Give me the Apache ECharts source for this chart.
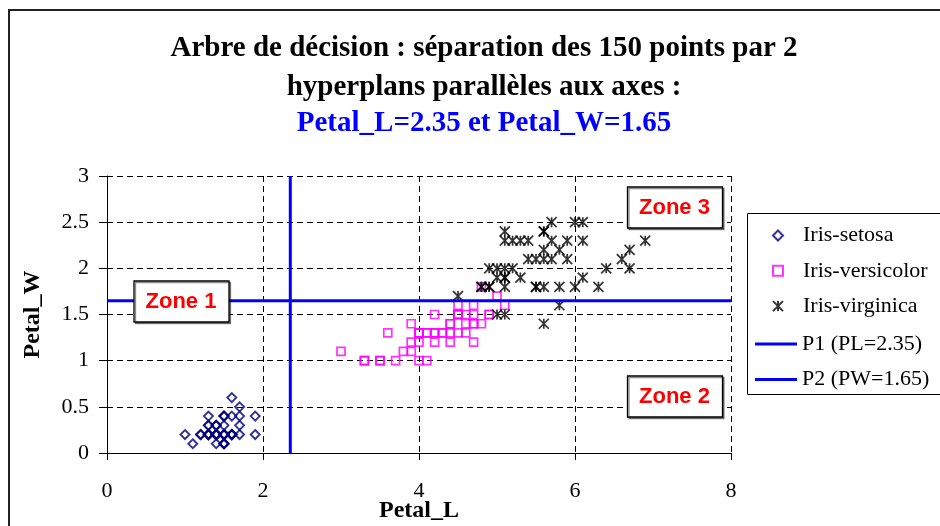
<!DOCTYPE html>
<html><head><meta charset="utf-8">
<script src="https://cdn.jsdelivr.net/npm/echarts@6/dist/echarts.min.js"></script>
<style>html,body{margin:0;padding:0;background:#fff}#c{width:940px;height:526px}</style>
</head><body><div id="c"></div>
<script>
// Petal length / petal width pairs (Iris data)
const setosa = [
 [1.4,0.2],[1.4,0.2],[1.3,0.2],[1.5,0.2],[1.4,0.2],[1.7,0.4],[1.4,0.3],[1.5,0.2],[1.4,0.2],[1.5,0.1],
 [1.5,0.2],[1.6,0.2],[1.4,0.1],[1.1,0.1],[1.2,0.2],[1.5,0.4],[1.3,0.4],[1.4,0.3],[1.7,0.3],[1.5,0.3],
 [1.7,0.2],[1.5,0.4],[1.0,0.2],[1.7,0.5],[1.9,0.2],[1.6,0.2],[1.6,0.4],[1.5,0.2],[1.4,0.2],[1.6,0.2],
 [1.6,0.2],[1.5,0.4],[1.5,0.1],[1.4,0.2],[1.5,0.1],[1.2,0.2],[1.3,0.2],[1.5,0.1],[1.3,0.2],[1.5,0.2],
 [1.3,0.3],[1.3,0.3],[1.3,0.2],[1.6,0.6],[1.9,0.4],[1.4,0.3],[1.6,0.2],[1.4,0.2],[1.5,0.2],[1.4,0.2]
];
const versicolor = [
 [4.7,1.4],[4.5,1.5],[4.9,1.5],[4.0,1.3],[4.6,1.5],[4.5,1.3],[4.7,1.6],[3.3,1.0],[4.6,1.3],[3.9,1.4],
 [3.5,1.0],[4.2,1.5],[4.0,1.0],[4.7,1.4],[3.6,1.3],[4.4,1.4],[4.5,1.5],[4.1,1.0],[4.5,1.5],[3.9,1.1],
 [4.8,1.8],[4.0,1.3],[4.9,1.5],[4.7,1.2],[4.3,1.3],[4.4,1.4],[4.8,1.4],[5.0,1.7],[4.5,1.5],[3.5,1.0],
 [3.8,1.1],[3.7,1.0],[3.9,1.2],[5.1,1.6],[4.5,1.5],[4.5,1.6],[4.7,1.5],[4.4,1.3],[4.1,1.3],[4.0,1.3],
 [4.4,1.2],[4.6,1.4],[4.0,1.2],[3.3,1.0],[4.2,1.3],[4.2,1.2],[4.2,1.3],[4.3,1.3],[3.0,1.1],[4.1,1.3]
];
const virginica = [
 [6.0,2.5],[5.1,1.9],[5.9,2.1],[5.6,1.8],[5.8,2.2],[6.6,2.1],[4.5,1.7],[6.3,1.8],[5.8,1.8],[6.1,2.5],
 [5.1,2.0],[5.3,1.9],[5.5,2.1],[5.0,2.0],[5.1,2.4],[5.3,2.3],[5.5,1.8],[6.7,2.2],[6.9,2.3],[5.0,1.5],
 [5.7,2.3],[4.9,2.0],[6.7,2.0],[4.9,1.8],[5.7,2.1],[6.0,1.8],[4.8,1.8],[4.9,1.8],[5.6,2.1],[5.8,1.6],
 [6.1,1.9],[6.4,2.0],[5.6,2.2],[5.1,1.5],[5.6,1.4],[6.1,2.3],[5.6,2.4],[5.5,1.8],[4.8,1.8],[5.4,2.1],
 [5.6,2.4],[5.1,2.3],[5.1,1.9],[5.9,2.3],[5.7,2.5],[5.2,2.3],[5.0,1.9],[5.2,2.0],[5.4,2.3],[5.1,1.8]
];
// decision boundaries
const splitPL = 2.35;
const splitPW = 1.65;
// axes
const xRange = [0, 8];
const yRange = [0, 3];
const xStep = 2;
const yStep = 0.5;
// texts
const pointNames = ['Iris-setosa', 'Iris-versicolor', 'Iris-virginica'];
const lineNames = ['P1 (PL=2.35)', 'P2 (PW=1.65)'];
const titleLines = ['Arbre de décision : séparation des 150 points par 2', 'hyperplans parallèles aux axes :', 'Petal_L=2.35 et Petal_W=1.65'];
const axisNames = ['Petal_L', 'Petal_W'];
const zoneLabels = ['Zone 1', 'Zone 2', 'Zone 3'];

const SERIF = "'Liberation Serif', 'Times New Roman', serif";
const SANS = "'Liberation Sans', Arial, sans-serif";
const STAR = 'path://M0,0L10,10M10,0L0,10M5,0L5,10';

const chart = echarts.init(document.getElementById('c'), null, {renderer: 'canvas'});

function zoneBox(label, cx, cy) {
  return {
    type: 'group', z: 100, x: cx, y: cy,
    children: [
      {type: 'rect', z: 100, shape: {x: -47, y: -20.5, width: 95, height: 41},
       style: {fill: '#fff', stroke: '#000', lineWidth: 1.3, shadowColor: 'rgba(0,0,0,0.45)', shadowOffsetX: 1.5, shadowOffsetY: 1.5, shadowBlur: 0}},
      {type: 'text', z: 101, x: 0, y: 0,
       style: {text: label, fill: '#ff0000', font: 'bold 22px ' + SANS, align: 'center', verticalAlign: 'middle'}}
    ]
  };
}

const titleStyle = (color) => ({fontFamily: SERIF, fontWeight: 'bold', fontSize: 29, color: color});

const option = {
  backgroundColor: '#fff',
  animation: false,
  title: [
    {text: titleLines[0], left: 484, top: 34, padding: 0, textAlign: 'center', textStyle: titleStyle('#000')},
    {text: titleLines[1], left: 484, top: 73, padding: 0, textAlign: 'center', textStyle: titleStyle('#000')},
    {text: titleLines[2], left: 484, top: 109.5, padding: 0, textAlign: 'center', textStyle: titleStyle('#0000ff')}
  ],
  grid: {left: 107, right: 209, top: 176, bottom: 73, containLabel: false, outerBoundsMode: 'none'},
  xAxis: {
    type: 'value', min: xRange[0], max: xRange[1], interval: xStep,
    name: axisNames[0], nameLocation: 'middle', nameGap: 46, nameMoveOverlap: false,
    nameTextStyle: {fontFamily: SERIF, fontWeight: 'bold', fontSize: 24, color: '#000'},
    axisLine: {show: true, onZero: false, lineStyle: {color: '#000', width: 1}},
    axisTick: {show: true, inside: false, length: 7, lineStyle: {color: '#000'}},
    axisLabel: {margin: 27, fontFamily: SERIF, fontSize: 22, color: '#000'},
    splitLine: {show: true, lineStyle: {color: '#000', type: [6, 4], width: 1}}
  },
  yAxis: {
    type: 'value', min: yRange[0], max: yRange[1], interval: yStep,
    name: axisNames[1], nameLocation: 'middle', nameGap: 62, nameRotate: 90, nameMoveOverlap: false,
    nameTextStyle: {fontFamily: SERIF, fontWeight: 'bold', fontSize: 24, color: '#000'},
    axisLine: {show: true, onZero: false, lineStyle: {color: '#000', width: 1}},
    axisTick: {show: true, inside: false, length: 8, lineStyle: {color: '#000'}},
    axisLabel: {margin: 18, fontFamily: SERIF, fontSize: 22, color: '#000'},
    splitLine: {show: true, lineStyle: {color: '#000', type: [6, 4], width: 1}}
  },
  legend: [
    {orient: 'vertical', left: 772, top: 224.5, padding: 0,
     itemWidth: 10, itemHeight: 10, itemGap: 13.3,
     textStyle: {fontFamily: SERIF, fontSize: 22, color: '#000', lineHeight: 22, padding: [0, 0, 0, 15]},
     data: pointNames},
    {orient: 'vertical', left: 755, top: 333, padding: 0,
     itemWidth: 42, itemHeight: 3, itemGap: 13.5, icon: 'rect',
     textStyle: {fontFamily: SERIF, fontSize: 22, color: '#000', lineHeight: 22},
     data: lineNames}
  ],
  series: [
    {name: pointNames[0], type: 'scatter', data: setosa, symbol: 'diamond', symbolSize: 9,
     itemStyle: {color: 'rgba(0,0,0,0)', borderColor: '#000080', borderWidth: 1.9}},
    {name: pointNames[1], type: 'scatter', data: versicolor, symbol: 'rect', symbolSize: 8,
     itemStyle: {color: 'rgba(0,0,0,0)', borderColor: '#ff00ff', borderWidth: 1.7}},
    {name: pointNames[2], type: 'scatter', data: virginica, symbol: STAR, symbolSize: 10,
     itemStyle: {color: 'rgba(0,0,0,0)', borderColor: '#000', borderWidth: 1.7}},
    {name: lineNames[0], type: 'line', data: [[splitPL, yRange[0]], [splitPL, yRange[1]]],
     symbol: 'none', showSymbol: false, z: 3,
     itemStyle: {color: '#0000ff'}, lineStyle: {color: '#0000ff', width: 3}},
    {name: lineNames[1], type: 'line', data: [[xRange[0], splitPW], [xRange[1], splitPW]],
     symbol: 'none', showSymbol: false, z: 3,
     itemStyle: {color: '#0000ff'}, lineStyle: {color: '#0000ff', width: 3}}
  ],
  graphic: [
    {type: 'rect', z: -1, silent: true, shape: {x: 9, y: 10, width: 1000, height: 600},
     style: {fill: 'none', stroke: '#222', lineWidth: 2}},
    {type: 'rect', z: -1, silent: true, shape: {x: 747.5, y: 213.5, width: 300, height: 181},
     style: {fill: 'none', stroke: '#000', lineWidth: 1}},
    zoneBox(zoneLabels[0], 181, 301.5),
    zoneBox(zoneLabels[1], 674.5, 396.5),
    zoneBox(zoneLabels[2], 674.5, 207.5)
  ]
};
chart.setOption(option);
</script>
</body></html>
